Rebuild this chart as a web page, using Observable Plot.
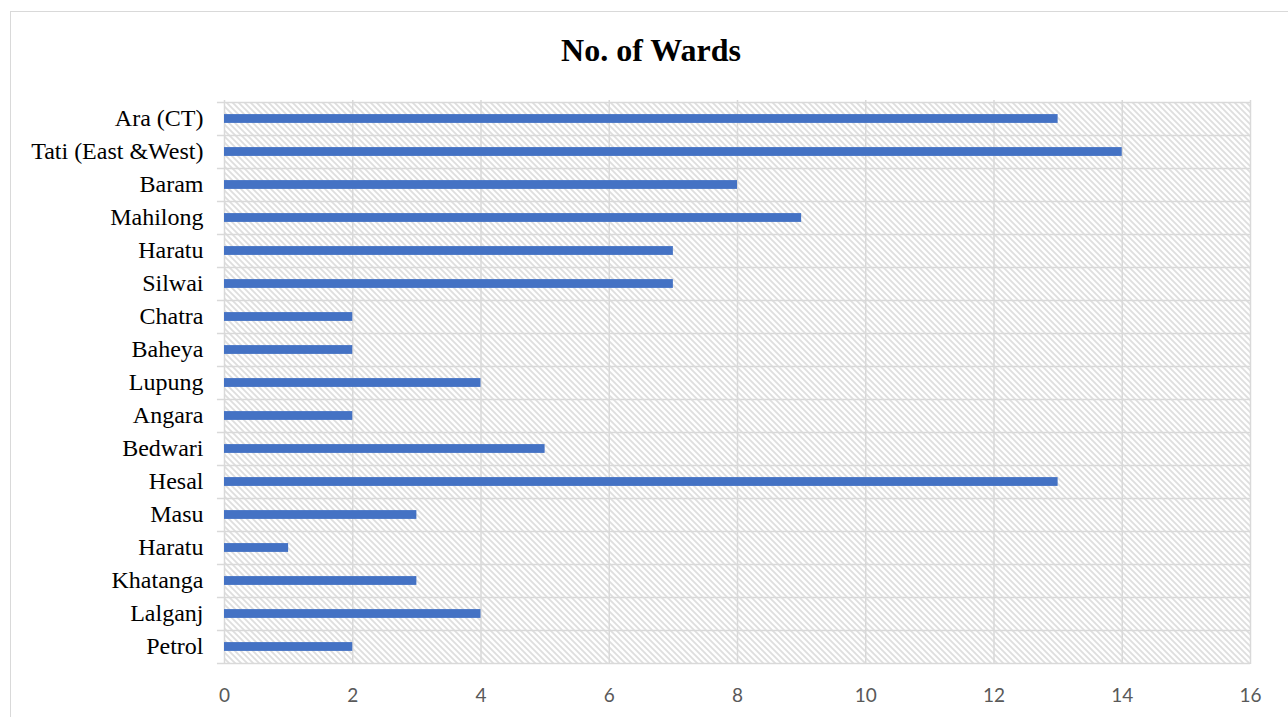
<!DOCTYPE html>
<html>
<head>
<meta charset="utf-8">
<script src="https://cdn.jsdelivr.net/npm/d3@7"></script>
<script src="https://cdn.jsdelivr.net/npm/@observablehq/plot@0.6"></script>
<style>
  body { margin: 0; background: #fff; }
  #frame { position: absolute; left: 10px; top: 11px; width: 1300px; height: 800px; border: 1px solid #d9d9d9; box-sizing: border-box; }
  #chart { position: absolute; left: 0; top: 0; width: 1288px; }
  #title { height: 80px; box-sizing: border-box; padding-top: 34px; padding-left: 14px; text-align: center;
           font-family: "Liberation Serif", "Times New Roman", serif; font-weight: bold; font-size: 32px; line-height: 1; color: #000; }
</style>
</head>
<body>
<div id="frame"></div>
<div id="chart">
  <div id="title">No. of Wards</div>
</div>
<script>
// Wards per town, listed top to bottom
const towns = ["Ara (CT)", "Tati (East &West)", "Baram", "Mahilong", "Haratu", "Silwai", "Chatra", "Baheya",
               "Lupung", "Angara", "Bedwari", "Hesal", "Masu", "Haratu", "Khatanga", "Lalganj", "Petrol"];
const wards = [13, 14, 8, 9, 7, 7, 2, 2, 4, 2, 5, 13, 3, 1, 3, 4, 2];
const xTicks = [0, 2, 4, 6, 8, 10, 12, 14, 16];

// Town names repeat ("Haratu"), so rows are keyed by position
const rows = towns.map((t, i) => ({i, town: t, wards: wards[i]}));
const idx = rows.map(d => d.i);

const W = 1288, H = 637, mT = 20, mB = 53, mL = 224, mR = 38;
const rowH = (H - mT - mB) / rows.length;
const barThick = 9;
const grid = "#d9d9d9";

const plot = Plot.plot({
  width: W, height: H,
  marginTop: mT, marginBottom: mB, marginLeft: mL, marginRight: mR,
  style: {background: "transparent", overflow: "visible"},
  x: {domain: [0, 16], label: null},
  y: {domain: idx, padding: 0, label: null},
  marks: [
    // hatched plot background, one band per row
    Plot.barX(rows, {y: "i", x1: 0, x2: 16, fill: "url(#hatch)", inset: 0}),
    // vertical gridlines
    Plot.ruleX(xTicks, {stroke: grid, strokeWidth: 1.5}),
    // row separators with short outside ticks on the category axis
    Plot.ruleY(rows, {y: "i", dy: -rowH / 2, x1: -0.11, x2: 16, stroke: grid, strokeWidth: 1.5}),
    Plot.ruleY(rows.slice(-1), {y: "i", dy: rowH / 2, x1: -0.11, x2: 16, stroke: grid, strokeWidth: 1.5}),
    // bars
    Plot.barX(rows, {y: "i", x1: 0, x2: "wards", fill: "#4472c4",
                     insetTop: (rowH - barThick) / 2, insetBottom: (rowH - barThick) / 2}),
    Plot.axisX({ticks: xTicks, tickSize: 0, tickPadding: 24, fontSize: 19, label: null,
                fontFamily: "Lato, 'Open Sans', sans-serif", fill: "#595959"}),
    Plot.axisY({tickSize: 0, tickPadding: 21, tickFormat: i => towns[i], fontSize: 24, label: null, dy: -1,
                fontFamily: "'Liberation Serif', 'Times New Roman', serif", fill: "#000"})
  ]
});

// diagonal hatch used by the background bands
const ns = "http://www.w3.org/2000/svg";
const defs = document.createElementNS(ns, "defs");
const pat = document.createElementNS(ns, "pattern");
pat.setAttribute("id", "hatch");
pat.setAttribute("patternUnits", "userSpaceOnUse");
pat.setAttribute("width", 6);
pat.setAttribute("height", 6);
const bg = document.createElementNS(ns, "rect");
bg.setAttribute("width", 6); bg.setAttribute("height", 6); bg.setAttribute("fill", "#fff");
const path = document.createElementNS(ns, "path");
path.setAttribute("d", "M0,0L6,6M-1,5L1,7M5,-1L7,1");
path.setAttribute("stroke", "#dedede");
path.setAttribute("stroke-width", 1.8);
pat.appendChild(bg); pat.appendChild(path);
defs.appendChild(pat);
plot.insertBefore(defs, plot.firstChild);

document.getElementById("chart").appendChild(plot);
</script>
</body>
</html>
